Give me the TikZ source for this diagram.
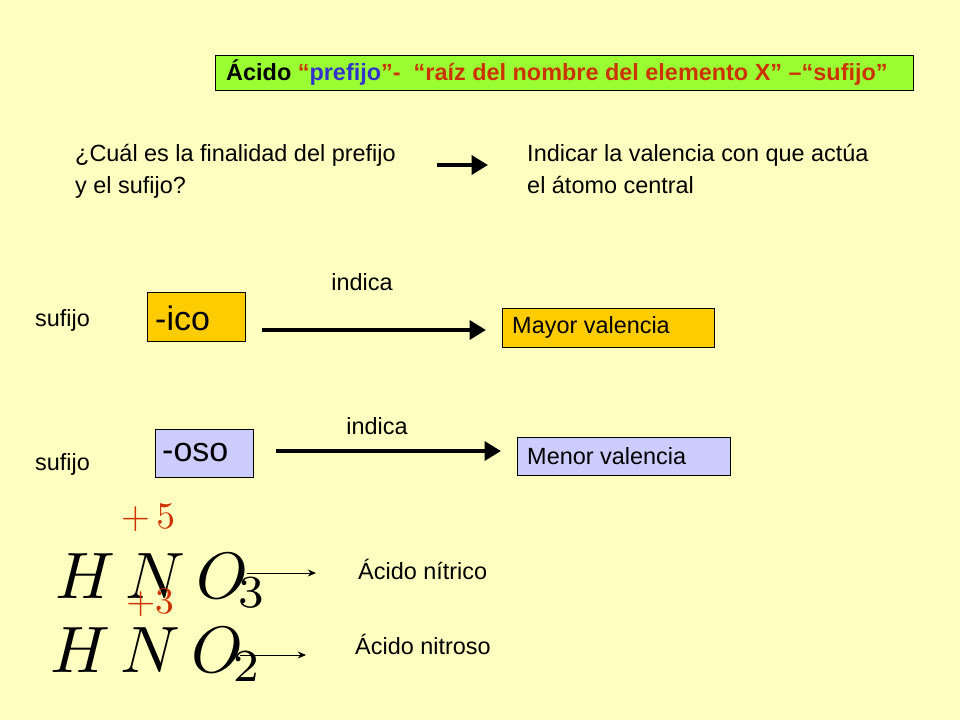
\documentclass[tikz,border=0pt]{standalone}
\usepackage{fontspec}
\setmainfont{Liberation Sans}
\usetikzlibrary{arrows.meta}
\definecolor{bg}{HTML}{FFFFC0}
\definecolor{tgreen}{HTML}{99FF33}
\definecolor{torange}{HTML}{FFCC00}
\definecolor{tlav}{HTML}{CCCCFF}
\definecolor{tblue}{HTML}{3333CC}
\definecolor{tred}{HTML}{CC3300}
\begin{document}
\begin{tikzpicture}[x=0.03cm,y=-0.03cm,
  txt/.style={font=\fontsize{20}{27}\selectfont,align=left,inner sep=0},
  boxn/.style={draw=black,line width=0.6pt,anchor=north west,inner sep=0},
  bigarr/.style={line width=3.5pt,-{Triangle[length=14pt,width=16pt]}},
  thinarr/.style={line width=0.7pt,-{Stealth[length=7pt,width=6pt]}},
  formula/.style={inner sep=0,anchor=base west,font=\fontsize{10}{12}\selectfont},
  supn/.style={inner sep=0,text=tred,font=\fontsize{10}{12}\selectfont}]
\fill[bg] (0,0) rectangle (960,720);
\useasboundingbox (0,0) rectangle (960,720);
% title
\node[boxn,fill=tgreen,minimum width=698*0.03cm,minimum height=35*0.03cm] (title) at (215,55) {};
\node[txt,anchor=west,font=\bfseries\fontsize{20}{25}\selectfont] (titletext) at (226,72.5)
 {Ácido \textcolor{tred}{“}\textcolor{tblue}{prefijo}\textcolor{tred}{”-\ \ “raíz del nombre del elemento X” –“sufijo”}};
% question
\node[txt,anchor=north west] (q) at (75,144) {¿Cuál es la finalidad del prefijo\\y el sufijo?};
\node[txt,anchor=north west] (a) at (527,144) {Indicar la valencia con que actúa\\el átomo central};
\coordinate (q1) at (437,165); \coordinate (q2) at (488,165);
\draw[bigarr] (q1) -- (q2);
% ico
\node[txt] (ind1) at (362,282) {indica};
\node[txt,anchor=west] (suf1) at (35,320) {sufijo};
\node[boxn,fill=torange,minimum width=98*0.03cm,minimum height=49*0.03cm] (ico) at (147,292) {};
\node[txt,anchor=west,font=\fontsize{29}{32}\selectfont] (icot) at (155,318) {-ico};
\node[boxn,fill=torange,minimum width=212*0.03cm,minimum height=39*0.03cm] (may) at (502,308) {};
\node[txt,anchor=west] (mayt) at (512,327.5) {Mayor valencia};
\coordinate (i1) at (262,330); \coordinate (i2) at (486,330);
\draw[bigarr] (i1) -- (i2);
% oso
\node[txt] (ind2) at (377,426) {indica};
\node[txt,anchor=west] (suf2) at (35,464) {sufijo};
\node[boxn,fill=tlav,minimum width=98*0.03cm,minimum height=48*0.03cm] (oso) at (155,429) {};
\node[txt,anchor=west,font=\fontsize{29}{32}\selectfont] (osot) at (162,453) {-oso};
\node[boxn,fill=tlav,minimum width=213*0.03cm,minimum height=38*0.03cm] (men) at (517,437) {};
\node[txt,anchor=west] (ment) at (527,456) {Menor valencia};
\coordinate (o1) at (276,451); \coordinate (o2) at (501,451);
\draw[bigarr] (o1) -- (o2);
% formulas
\node[formula] (f1) at (55,598) {\scalebox{5.6}{$H\,N\,O_{\!3}$}};
\node[supn] (s1) at (148,518) {\scalebox{3.2}{$+\,5$}};
\coordinate (a1) at (247,573); \coordinate (a2) at (316,573);
\draw[thinarr] (a1) -- (a2);
\node[txt,anchor=west] (n1) at (358,569) {Ácido nítrico};
\node[formula] (f2) at (50,672) {\scalebox{5.6}{$H\,N\,O_{\!2}$}};
\node[supn] (s2) at (150,603) {\scalebox{3.2}{$+3$}};
\coordinate (b1) at (240,655); \coordinate (b2) at (306,655);
\draw[thinarr] (b1) -- (b2);
\node[txt,anchor=west] (n2) at (355,644) {Ácido nitroso};
\end{tikzpicture}
\end{document}
